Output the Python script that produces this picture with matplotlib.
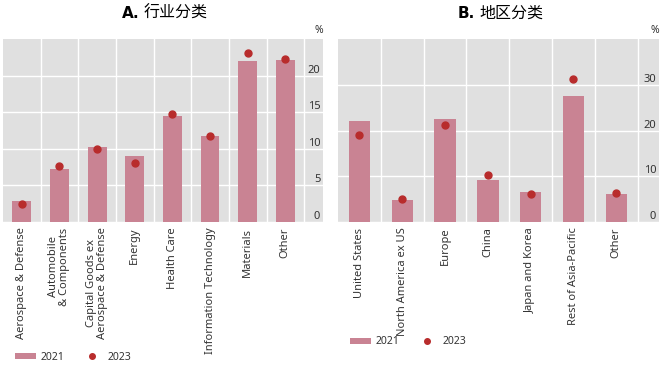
import numpy as np
import matplotlib
matplotlib.use('Agg')
import matplotlib.pyplot as plt
from matplotlib.patches import Patch
from matplotlib.lines import Line2D

plt.rcParams['font.family'] = ['Noto Sans', 'Noto Sans CJK SC', 'DejaVu Sans']

# panel A: by sector
sectors = ['Aerospace & Defense', 'Automobile\n& Components',
           'Capital Goods ex\nAerospace & Defense', 'Energy', 'Health Care',
           'Information Technology', 'Materials', 'Other']
sector_2021 = [2.9, 7.3, 10.3, 9.0, 14.5, 11.8, 22.0, 22.1]
sector_2023 = [2.4, 7.7, 10.0, 8.0, 14.8, 11.8, 23.1, 22.3]

# panel B: by region
regions = ['United States', 'North America ex US', 'Europe', 'China',
           'Japan and Korea', 'Rest of Asia-Pacific', 'Other']
region_2021 = [22.1, 4.9, 22.5, 9.2, 6.6, 27.6, 6.2]
region_2023 = [19.1, 5.0, 21.2, 10.2, 6.2, 31.3, 6.3]

bar_col = '#C98393'
dot_col = '#B82C2C'
bg_col = '#E0E0E0'
txt_col = '#333333'

fig = plt.figure(figsize=(6.68, 3.70), dpi=100)
axA = fig.add_axes([3 / 668, 1 - 222 / 370, 320 / 668, 183 / 370])
axB = fig.add_axes([338 / 668, 1 - 222 / 370, 321 / 668, 183 / 370])


def draw_panel(ax, cats, v21, v23, ymax, step, letter, title, leg_y, leg_x):
   x = np.arange(len(cats))
   ax.set_facecolor(bg_col)
   ax.bar(x, v21, width=0.5, color=bar_col, zorder=2)
   ax.plot(x, v23, 'o', color=dot_col, markersize=5, zorder=3)
   # extra half column on the right holds the y tick labels
   ax.set_xlim(-0.5, len(cats))
   ax.set_ylim(0, ymax)
   for s in ax.spines.values():
      s.set_visible(False)
   # grid lines between categories
   ax.set_xticks(np.arange(len(cats)) + 0.5, minor=True)
   ax.set_xticks(x)
   ax.set_xticklabels(cats, rotation=90, fontsize=8, color=txt_col,
                      va='top', ha='center', multialignment='center', linespacing=1.0)
   ax.tick_params(axis='x', which='both', length=0, pad=4)
   ax.grid(True, which='minor', axis='x', color='white', lw=1, zorder=1)
   ax.set_yticks(np.arange(0, ymax, step))
   ax.yaxis.tick_right()
   ax.tick_params(axis='y', length=0, pad=-2, labelsize=8, labelcolor=txt_col)
   for lbl in ax.get_yticklabels():
      lbl.set_ha('right')
      lbl.set_va('bottom')
   ax.grid(True, which='major', axis='y', color='white', lw=1, zorder=1)
   ax.set_axisbelow(True)
   ax.text(1.0, 1.015, '%', transform=ax.transAxes, ha='right', va='bottom',
           fontsize=7.5, color=txt_col)
   ax.annotate(letter, xy=(0.5, 1), xytext=(-17, 18), xycoords='axes fraction',
               textcoords='offset points', ha='right', va='center',
               fontsize=11, fontweight='bold', family='DejaVu Sans', color='black')
   ax.annotate(title, xy=(0.5, 1), xytext=(-14, 18), xycoords='axes fraction',
               textcoords='offset points', ha='left', va='center',
               fontsize=11.5, color='black')
   handles = [Patch(facecolor=bar_col, edgecolor='none', label='2021'),
              Line2D([], [], marker='o', ls='none', color=dot_col, markersize=4, label='2023')]
   ax.legend(handles=handles, loc='center left', bbox_to_anchor=(leg_x, leg_y),
             bbox_transform=fig.transFigure, ncol=2, frameon=False, fontsize=7.5,
             handlelength=2.0, handleheight=0.6, handletextpad=0.5,
             columnspacing=1.6, borderpad=0, borderaxespad=0, labelcolor=txt_col)


draw_panel(axA, sectors, sector_2021, sector_2023, 25, 5, 'A.', '行业分类',
           1 - 357 / 370, 15 / 668)
draw_panel(axB, regions, region_2021, region_2023, 40, 10, 'B.', '地区分类',
           1 - 342 / 370, 350 / 668)

fig.savefig('out.png', dpi=100)
